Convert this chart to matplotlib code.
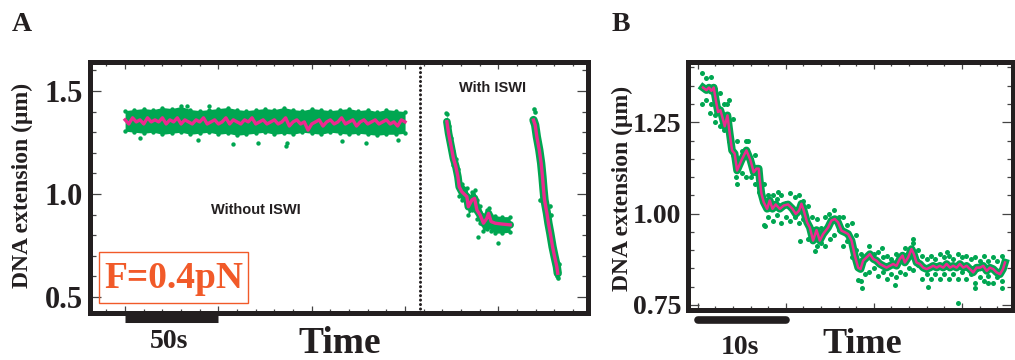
import matplotlib
matplotlib.use("Agg")
import matplotlib.pyplot as plt
import matplotlib.transforms as mtransforms
from matplotlib.patches import Rectangle
from matplotlib.ticker import MultipleLocator, FixedLocator

# ---------------- DATA ----------------
# Panel A, without ISWI (time in s, extension in um)
a0_t_pink = list(range(0, 152, 2))
a0_pink = [1.36,1.34,1.37,1.35,1.36,1.34,1.37,1.35,1.36,1.35,
           1.37,1.34,1.36,1.35,1.37,1.34,1.36,1.35,1.34,1.36,
           1.35,1.37,1.34,1.35,1.36,1.34,1.35,1.37,1.34,1.36,
           1.35,1.34,1.36,1.35,1.37,1.34,1.35,1.36,1.34,1.35,
           1.36,1.34,1.35,1.37,1.33,1.35,1.36,1.34,1.35,1.31,
           1.34,1.35,1.36,1.33,1.35,1.36,1.34,1.35,1.37,1.34,
           1.35,1.36,1.33,1.35,1.36,1.34,1.35,1.36,1.34,1.35,
           1.36,1.34,1.35,1.33,1.36,1.35]
a0_t_env = list(range(0, 155, 5))
a0_hi = [1.405,1.41,1.415,1.41,1.42,1.415,1.425,1.41,1.405,1.41,1.415,1.42,1.41,1.405,1.41,1.415,
         1.41,1.42,1.41,1.405,1.415,1.41,1.405,1.41,1.415,1.405,1.41,1.40,1.41,1.405,1.40]
a0_lo = [1.305,1.30,1.295,1.30,1.29,1.295,1.30,1.29,1.295,1.30,1.29,1.295,1.285,1.29,1.295,1.30,
         1.29,1.295,1.29,1.30,1.295,1.29,1.30,1.295,1.29,1.295,1.29,1.285,1.29,1.29,1.295]
a0_out_t = [8, 39, 58, 71, 86, 87, 116, 129, 146, 33, 45]
a0_out_y = [1.27, 1.26, 1.245, 1.25, 1.235, 1.25, 1.255, 1.25, 1.26, 1.425, 1.428]

# Panel A, with ISWI, trace 1
a1_t = [172.4,173.3,174.7,175.9,177.2,178.3,179.0,180.4,183.1,183.9,185.8,187.2,188.5,190.2,
        192.0,193.8,194.7,196.1,198.3,201.9,206.3]
a1_pink = [1.351,1.295,1.230,1.173,1.133,1.084,1.035,1.011,0.987,0.938,0.971,0.979,0.922,0.898,
           0.858,0.882,0.906,0.866,0.858,0.854,0.850]
a1_hi = [1.39,1.33,1.27,1.21,1.17,1.12,1.07,1.05,1.03,0.99,1.01,1.02,0.97,0.94,0.90,0.92,0.93,
         0.90,0.895,0.89,0.89]
a1_lo = [1.32,1.26,1.20,1.14,1.09,1.04,0.99,0.97,0.95,0.90,0.92,0.93,0.88,0.86,0.82,0.83,0.84,
         0.82,0.81,0.81,0.815]
a1_out_t = [200.0, 189.0, 171.8]
a1_out_y = [0.76, 0.79, 1.395]

# Panel A, with ISWI, trace 2
a2_t = [218.8,219.7,220.6,221.9,222.9,223.6,224.2,224.7,226.0,226.8,227.8,229.0,230.1,231.3,231.8]
a2_pink = [1.359,1.335,1.278,1.214,1.149,1.084,1.019,0.971,0.906,0.858,0.809,0.744,0.696,0.647,0.615]
a2_out_t = [219.2, 219.6, 222.4, 227.8, 228.4, 231.8, 231.4, 232.4]
a2_out_y = [1.415, 1.40, 0.97, 0.94, 0.90, 0.59, 0.60, 0.66]

# Panel B
b_t = [0.60,0.99,1.28,1.56,1.82,2.13,2.31,2.58,2.81,3.07,3.38,3.64,3.90,4.20,4.47,4.97,5.53,5.99,
       6.36,6.67,6.93,7.05,7.24,7.50,7.88,8.18,8.49,8.86,9.32,9.77,10.26,10.76,11.14,11.51,11.78,
       12.05,12.42,12.73,13.10,13.49,13.86,14.24,14.81,15.19,15.57,15.94,16.33,16.70,17.08,17.47,
       17.84,18.22,18.49,18.78,19.17,19.55,19.92,20.31,20.68,21.06,21.44,21.82,22.19,22.58,22.95,
       23.26,23.52,23.90,24.28,24.55,24.85,25.23,25.60,25.99,26.36,26.74,27.13,27.50,27.88,28.26,
       28.64,29.01,29.40,29.77,30.15,30.53,30.91,31.28,31.66,32.05,32.42,32.81,33.18,33.56,33.94,
       34.32,34.66,34.89]
b_pink = [1.345,1.338,1.345,1.336,1.345,1.301,1.278,1.283,1.263,1.239,1.269,1.219,1.173,1.164,1.118,
          1.146,1.173,1.146,1.113,1.123,1.123,1.091,1.054,1.031,1.013,1.036,1.013,1.025,1.013,1.022,
          1.025,1.013,0.999,1.008,1.027,1.008,0.976,0.962,0.926,0.955,0.926,0.944,0.962,0.981,0.985,
          0.976,0.953,0.949,0.944,0.926,0.885,0.852,0.848,0.871,0.880,0.889,0.876,0.871,0.862,0.857,
          0.852,0.857,0.862,0.857,0.876,0.885,0.866,0.880,0.903,0.889,0.866,0.862,0.852,0.848,0.852,
          0.857,0.852,0.857,0.852,0.862,0.852,0.857,0.852,0.862,0.852,0.857,0.848,0.839,0.852,0.852,
          0.857,0.843,0.852,0.848,0.839,0.834,0.848,0.866]
b_t_env = [0.5,1.5,2.5,3.5,4.5,5.5,6.5,7.5,8.5,9.5,10.5,11.5,12.5,13.5,14.5,15.5,16.5,17.5,18.5,
           19.5,20.5,21.5,22.5,23.5,24.5,25.5,26.5,27.5,28.5,29.5,30.5,31.5,32.5,33.5,34.5]
b_hi = [1.385,1.375,1.33,1.31,1.20,1.20,1.16,1.08,1.05,1.05,1.055,1.05,1.02,0.985,0.99,1.01,0.99,
        0.975,0.89,0.91,0.895,0.885,0.89,0.905,0.92,0.885,0.885,0.89,0.885,0.89,0.885,0.88,0.885,
        0.88,0.885]
b_lo = [1.30,1.30,1.24,1.20,1.08,1.10,1.08,0.97,0.98,0.975,0.98,0.975,0.93,0.91,0.91,0.94,0.91,
        0.88,0.815,0.84,0.83,0.82,0.825,0.835,0.845,0.82,0.82,0.82,0.82,0.82,0.82,0.81,0.815,0.81,
        0.815]
b_t_mid = [1.0,2.0,3.0,4.0,5.0,6.0,7.0,8.0,9.0,10.0,11.0,12.0,13.0,14.0,15.0,16.0,17.0,18.0,19.0,
           20.0,21.0,22.0,23.0,24.0,25.0,26.0,27.0,28.0,29.0,30.0,31.0,32.0,33.0,34.0]
b_mid_hi = [1.37,1.34,1.30,1.26,1.17,1.15,1.11,1.05,1.04,1.03,1.045,1.035,0.99,0.96,0.975,0.99,
            0.97,0.94,0.875,0.89,0.88,0.875,0.885,0.89,0.90,0.875,0.875,0.88,0.875,0.88,0.875,
            0.87,0.87,0.87]
b_mid_lo = [1.31,1.27,1.23,1.16,1.11,1.10,1.06,0.99,0.995,0.99,0.99,0.985,0.94,0.92,0.93,0.955,
            0.925,0.90,0.835,0.85,0.84,0.835,0.84,0.85,0.86,0.835,0.835,0.835,0.835,0.84,0.835,
            0.825,0.83,0.825]
b_out_t = [29.6,18.6,11.6,1.4,4.3,34.5,22.4,31.5,24.5,28.3,18.2,13.3,7.6,2.0,3.3,5.7,9.1,14.9,20.9,26.1,33.0]
b_out_y = [0.756,0.797,0.926,1.274,1.10,0.797,0.805,0.797,0.93,0.894,0.818,0.898,0.967,1.25,1.30,
           1.20,1.06,1.0,0.905,0.80,0.81]

# ---------------- STYLE ----------------
GREEN = "#00a651"
PINK = "#ec2a8e"
ORANGE = "#f15a29"
DARK = "#231f20"
SERIF = "Liberation Serif"
SANS = "Liberation Sans"

W, H = 1015, 360
fig = plt.figure(figsize=(W / 100, H / 100), dpi=100)

def fx(px):
    return px / W

def fy(py):
    return 1 - py / H

axA = fig.add_axes([fx(90), fy(313), fx(588 - 90), (313 - 62) / H])
axB = fig.add_axes([fx(688), fy(310), fx(1013 - 688), (310 - 62) / H])

def style_axes(ax, lsize):
    for s in ax.spines.values():
        s.set_linewidth(3.6)
        s.set_color(DARK)
    ax.tick_params(which="both", direction="in", top=True, right=True, color="#444444", width=0.9)
    ax.tick_params(axis="y", which="major", length=8, labelsize=lsize, pad=5)
    ax.tick_params(axis="y", which="minor", length=4)
    ax.tick_params(axis="x", which="major", length=5, labelbottom=False)
    ax.tick_params(axis="x", which="minor", length=3)
    for lab in ax.get_yticklabels():
        lab.set_fontfamily(SERIF)
        lab.set_fontweight("bold")
        lab.set_color(DARK)

# ----- Panel A -----
axA.set_xlim(-18.8, 248)
axA.set_ylim(0.422, 1.641)
axA.fill_between(a0_t_env, a0_lo, a0_hi, color=GREEN, lw=0)
axA.scatter(a0_t_env, a0_hi, s=10, color=GREEN, lw=0)
axA.scatter(a0_t_env, a0_lo, s=10, color=GREEN, lw=0)
axA.scatter(a0_out_t, a0_out_y, s=10, color=GREEN, lw=0)
axA.plot(a0_t_pink, a0_pink, color=PINK, lw=2.4)

axA.fill_between(a1_t, a1_lo, a1_hi, color=GREEN, lw=0)
axA.plot(a1_t, a1_pink, color=GREEN, lw=5.5, solid_capstyle="round")
axA.scatter(a1_t, a1_hi, s=10, color=GREEN, lw=0)
axA.scatter(a1_t, a1_lo, s=10, color=GREEN, lw=0)
axA.scatter(a1_out_t, a1_out_y, s=10, color=GREEN, lw=0)
axA.plot(a1_t, a1_pink, color=PINK, lw=2.4)

axA.plot(a2_t, a2_pink, color=GREEN, lw=6, solid_capstyle="round")
axA.scatter(a2_out_t, a2_out_y, s=11, color=GREEN, lw=0)
axA.plot(a2_t, a2_pink, color=PINK, lw=2.4)

axA.axvline(158, color=DARK, lw=2.2, ls=(0, (0.01, 1.45)), dash_capstyle="round")

axA.xaxis.set_major_locator(FixedLocator([0, 50, 100, 150, 200]))
axA.xaxis.set_minor_locator(MultipleLocator(10))
axA.yaxis.set_major_locator(FixedLocator([0.5, 1.0, 1.5]))
axA.yaxis.set_minor_locator(MultipleLocator(0.1))
axA.set_yticklabels(["0.5", "1.0", "1.5"])
style_axes(axA, 22)

axA.text(70, 0.92, "Without ISWI", family=SANS, weight="bold", fontsize=10.5,
         color=DARK, ha="center", va="center")
axA.text(196.7, 1.515, "With ISWI", family=SANS, weight="bold", fontsize=10.5,
         color=DARK, ha="center", va="center")

blendA = mtransforms.blended_transform_factory(axA.transData, axA.transAxes)
axA.plot([0, 50], [-0.018, -0.018], transform=blendA, color=DARK, lw=6.5,
         solid_capstyle="butt", clip_on=False)

# ----- Panel B -----
axB.set_xlim(-1.1, 35.8)
axB.set_ylim(0.736, 1.415)
axB.plot(b_t, b_pink, color=GREEN, lw=5.5, solid_joinstyle="round")
for tt, yy in ((b_t_env, b_hi), (b_t_env, b_lo), (b_t_mid, b_mid_hi), (b_t_mid, b_mid_lo),
               (b_out_t, b_out_y)):
    axB.scatter(tt, yy, s=13, color=GREEN, lw=0)
axB.plot(b_t, b_pink, color=PINK, lw=1.8)

axB.xaxis.set_major_locator(MultipleLocator(10))
axB.xaxis.set_minor_locator(MultipleLocator(2))
axB.yaxis.set_major_locator(FixedLocator([0.75, 1.00, 1.25]))
axB.yaxis.set_minor_locator(MultipleLocator(0.05))
axB.set_yticklabels(["0.75", "1.00", "1.25"])
style_axes(axB, 20)

blendB = mtransforms.blended_transform_factory(axB.transData, axB.transAxes)
axB.plot([0, 10], [-0.04, -0.04], transform=blendB, color=DARK, lw=5.5,
         solid_capstyle="round", clip_on=False)

# ----- Figure texts -----
fig.text(fx(12), fy(31), "A", family=SERIF, weight="bold", fontsize=20, color=DARK)
fig.text(fx(612), fy(31), "B", family=SERIF, weight="bold", fontsize=20, color=DARK)
fig.text(fx(22), fy(185), "DNA extension (\u03bcm)", family=SERIF, weight="bold", fontsize=17,
         rotation=90, ha="center", va="center", color=DARK)
fig.text(fx(622), fy(188), "DNA extension (\u03bcm)", family=SERIF, weight="bold", fontsize=17,
         rotation=90, ha="center", va="center", color=DARK)
fig.text(fx(340), fy(353), "Time", family=SERIF, weight="bold", fontsize=27, ha="center",
         va="baseline", color=DARK)
fig.text(fx(169), fy(348), "50s", family=SERIF, weight="bold", fontsize=20, ha="center",
         va="baseline", color=DARK)
fig.text(fx(862), fy(353), "Time", family=SERIF, weight="bold", fontsize=26, ha="center",
         va="baseline", color=DARK)
fig.text(fx(740), fy(354), "10s", family=SERIF, weight="bold", fontsize=20, ha="center",
         va="baseline", color=DARK)

fig.patches.append(Rectangle((fx(99), fy(303)), fx(248 - 99), (303 - 252) / H,
                             transform=fig.transFigure, fill=False, edgecolor=ORANGE, lw=1.0))
fig.text(fx(174), fy(278), "F=0.4pN", family=SERIF, weight="bold", fontsize=27, ha="center",
         va="center", color=ORANGE)

fig.savefig("out.png", dpi=100)
